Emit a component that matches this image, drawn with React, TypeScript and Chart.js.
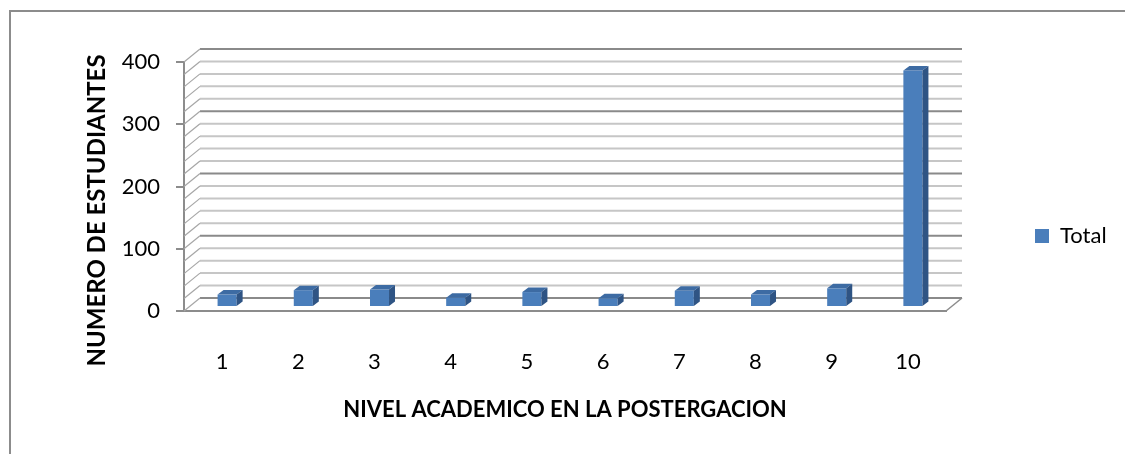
import React, { useEffect, useRef } from "react";
import { Chart, registerables } from "chart.js";

Chart.register(...registerables);

// ---- data ----
const categories = ["1", "2", "3", "4", "5", "6", "7", "8", "9", "10"];
const totals = [20, 27, 28, 15, 24, 14, 26, 20, 30, 380];
const yTicks = [0, 100, 200, 300, 400];
const minorGridStep = 20;
const seriesName = "Total";
const xTitle = "NIVEL ACADEMICO EN LA POSTERGACION";
const yTitle = "NUMERO DE ESTUDIANTES";

// ---- style ----
const FONT = "Lato, 'Open Sans', sans-serif";
const FRONT = "#4A7EBB";
const TOP = "#3D6BA3";
const SIDE = "#2F5484";
const AXIS = "#8c8c8c";
const WALL_DX = 16;
const WALL_DY = -13;
const BAR_DX = 5;
const BAR_DY = -4;
const DEPTH_DX = 6;
const DEPTH_DY = -4.5;

const threeD = {
  id: "threeD",
  afterLayout(chart: any) {
    const lg = chart.legend;
    if (lg) {
      const w = lg.width;
      lg.left = 1025;
      lg.right = 1025 + w;
      lg.top = 236 - 40;
      lg.bottom = 236 + 40;
      lg.height = 80;
    }
  },
  beforeDatasetsDraw(chart: any) {
    const { ctx, chartArea, scales } = chart;
    const y = scales.y;
    const min = y.min;
    const max = y.max;
    ctx.save();
    for (let v = min; v <= max; v += minorGridStep) {
      const py = y.getPixelForValue(v);
      const major = yTicks.includes(v);
      ctx.strokeStyle = major ? "#8a8a8a" : "#c6c6c6";
      ctx.lineWidth = 2;
      ctx.beginPath();
      ctx.moveTo(chartArea.left + WALL_DX, py + WALL_DY);
      ctx.lineTo(chartArea.right + WALL_DX, py + WALL_DY);
      ctx.stroke();
      ctx.strokeStyle = "#a6a6a6";
      ctx.lineWidth = 1.2;
      ctx.beginPath();
      ctx.moveTo(chartArea.left, py);
      ctx.lineTo(chartArea.left + WALL_DX, py + WALL_DY);
      ctx.stroke();
    }
    ctx.strokeStyle = AXIS;
    ctx.lineWidth = 1.5;
    ctx.beginPath();
    ctx.moveTo(chartArea.right, chartArea.bottom);
    ctx.lineTo(chartArea.right + WALL_DX, chartArea.bottom + WALL_DY);
    ctx.stroke();
    ctx.restore();
    ctx.save();
    ctx.translate(BAR_DX, BAR_DY);
  },
  afterDatasetsDraw(chart: any) {
    const { ctx } = chart;
    const meta = chart.getDatasetMeta(0);
    meta.data.forEach((el: any) => {
      const { x, y, base, width } = el.getProps(["x", "y", "base", "width"], true);
      const l = x - width / 2;
      const r = x + width / 2;
      ctx.fillStyle = TOP;
      ctx.beginPath();
      ctx.moveTo(l, y);
      ctx.lineTo(r, y);
      ctx.lineTo(r + DEPTH_DX, y + DEPTH_DY);
      ctx.lineTo(l + DEPTH_DX, y + DEPTH_DY);
      ctx.closePath();
      ctx.fill();
      ctx.fillStyle = SIDE;
      ctx.beginPath();
      ctx.moveTo(r, y);
      ctx.lineTo(r + DEPTH_DX, y + DEPTH_DY);
      ctx.lineTo(r + DEPTH_DX, base + DEPTH_DY);
      ctx.lineTo(r, base);
      ctx.closePath();
      ctx.fill();
    });
    ctx.restore();
  },
  afterDraw(chart: any) {
    const { ctx } = chart;
    ctx.save();
    ctx.translate(97, 210.5);
    ctx.rotate(-Math.PI / 2);
    ctx.font = `bold 24px ${FONT}`;
    ctx.fillStyle = "#000";
    ctx.textAlign = "center";
    ctx.textBaseline = "middle";
    ctx.fillText(yTitle, 0, 0);
    ctx.restore();
  },
};

export default function App() {
  const ref = useRef<HTMLCanvasElement>(null);
  useEffect(() => {
    const chart = new Chart(ref.current as HTMLCanvasElement, {
      type: "bar",
      data: {
        labels: categories,
        datasets: [
          {
            label: seriesName,
            data: totals,
            backgroundColor: FRONT,
            borderWidth: 0,
            barPercentage: 0.25,
            categoryPercentage: 1,
            clip: false as any,
          },
        ],
      },
      options: {
        responsive: false,
        animation: false,
        events: [],
        devicePixelRatio: 1,
        layout: { padding: { top: 62, right: 179, left: 0, bottom: 0 } },
        scales: {
          x: {
            grid: { display: false },
            border: { display: true, color: AXIS, width: 2 },
            ticks: {
              color: "#000",
              font: { family: FONT, size: 22 },
              padding: 30,
              maxRotation: 0,
              autoSkip: false,
            },
            title: {
              display: true,
              text: xTitle,
              color: "#000",
              font: { family: FONT, size: 22, weight: "bold" },
              padding: { top: 0, bottom: 31 },
            },
            afterFit: (s: any) => {
              s.height = 143;
            },
          },
          y: {
            min: 0,
            max: 400,
            afterBuildTicks: (s: any) => {
              s.ticks = yTicks.map((v) => ({ value: v }));
            },
            ticks: {
              color: "#000",
              font: { family: FONT, size: 22 },
              padding: 16,
            },
            grid: {
              drawOnChartArea: false,
              color: AXIS,
              tickColor: AXIS,
              tickLength: 8,
              lineWidth: 2,
            },
            border: { display: true, color: AXIS, width: 2 },
            afterFit: (s: any) => {
              s.width = 184;
            },
          },
        },
        plugins: {
          legend: {
            position: "chartArea" as any,
            labels: {
              boxWidth: 14,
              boxHeight: 14,
              color: "#000",
              font: { family: FONT, size: 22 },
            },
          },
          tooltip: { enabled: false },
        },
      },
      plugins: [threeD],
    });
    return () => chart.destroy();
  }, []);
  return (
    <div
      style={{
        position: "fixed",
        left: 0,
        top: 0,
        width: 1125,
        height: 454,
        background: "#fff",
        overflow: "hidden",
      }}
    >
      <div
        style={{
          position: "absolute",
          left: 9,
          top: 10,
          right: 0,
          bottom: 0,
          borderTop: "2px solid #8c8c8c",
          borderLeft: "2px solid #8c8c8c",
        }}
      />
      <canvas
        ref={ref}
        width={1125}
        height={454}
        style={{ position: "absolute", left: 0, top: 0, width: 1125, height: 454 }}
      />
    </div>
  );
}
